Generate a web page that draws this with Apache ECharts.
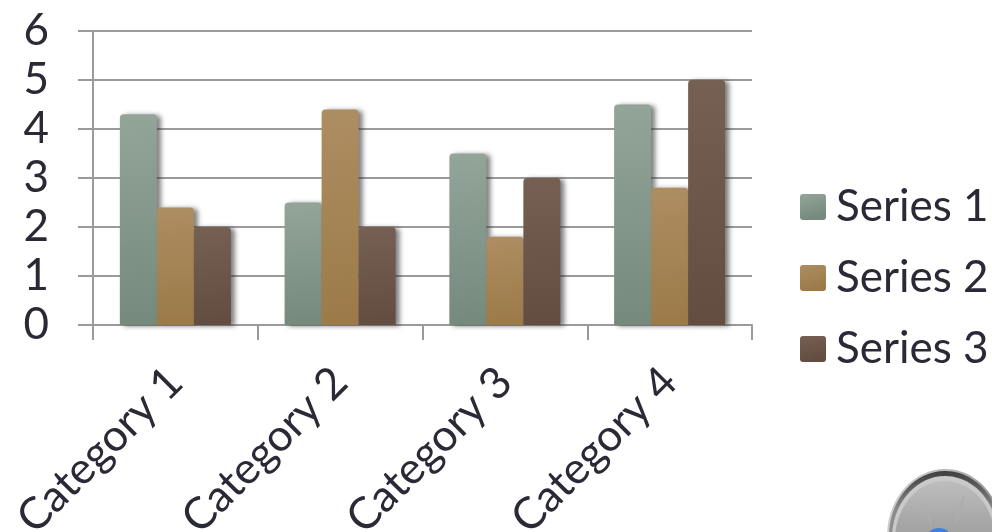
<!DOCTYPE html>
<html>
<head>
<meta charset="utf-8">
<style>
  html, body { margin: 0; padding: 0; background: #fff; overflow: hidden; }
  #chart { width: 992px; height: 532px; }
</style>
<script src="https://cdn.jsdelivr.net/npm/echarts@6/dist/echarts.min.js"></script>
</head>
<body>
<div id="chart"></div>
<script>
const categories = ['Category 1', 'Category 2', 'Category 3', 'Category 4'];
const series1 = [4.3, 2.5, 3.5, 4.5];
const series2 = [2.4, 4.4, 1.8, 2.8];
const series3 = [2, 2, 3, 5];
const seriesNames = ['Series 1', 'Series 2', 'Series 3'];

const fills = [
  ['#93a599', '#76897d'],
  ['#ad8d62', '#9c7a48'],
  ['#756053', '#624d40']
];
const textColor = '#2a2a36';
const lineColor = '#9a9a9a';
const fontFamily = 'Lato, "Open Sans", sans-serif';
const swatch = 'path://M3 0H23Q26 0 26 3V23Q26 26 23 26H3Q0 26 0 23V3Q0 0 3 0Z';

function barFill(pair) {
  return new echarts.graphic.LinearGradient(0, 0, 0.25, 1, [
    { offset: 0, color: pair[0] },
    { offset: 1, color: pair[1] }
  ]);
}

function makeSeries(name, values, pair) {
  return {
    name: name,
    type: 'bar',
    data: values,
    barWidth: 37,
    barGap: 0,
    itemStyle: {
      color: barFill(pair),
      borderRadius: [4, 4, 0, 0],
      shadowColor: 'rgba(40,40,40,0.6)',
      shadowBlur: 5,
      shadowOffsetX: 4,
      shadowOffsetY: 1
    },
    emphasis: { disabled: true }
  };
}

// Corner ornament: a domed grey dial running off the bottom right of the page.
function dial() {
  const cx = 945, cy = 536;
  return [
    { type: 'ellipse', silent: true, shape: { cx: cx, cy: cy, rx: 58, ry: 67 },
      style: { fill: new echarts.graphic.LinearGradient(0, 0, 1, 0.3, [
        { offset: 0, color: '#d8d8d8' }, { offset: 1, color: '#8f8f8f' }]) } },
    { type: 'ellipse', silent: true, shape: { cx: cx, cy: cy, rx: 56, ry: 65 },
      style: { fill: new echarts.graphic.LinearGradient(0, 0, 0, 1, [
        { offset: 0, color: '#3e3e3e' }, { offset: 0.3, color: '#8a8a8a' }, { offset: 1, color: '#9a9a9a' }]) } },
    { type: 'ellipse', silent: true, shape: { cx: cx, cy: cy + 2, rx: 53, ry: 62 },
      style: { fill: '#c9c9c9' } },
    { type: 'ellipse', silent: true, shape: { cx: cx, cy: cy + 4, rx: 50, ry: 59 },
      style: { fill: new echarts.graphic.LinearGradient(0, 0, 0, 1, [
        { offset: 0, color: '#bdbdbd' }, { offset: 0.6, color: '#979797' }, { offset: 1, color: '#8a8a8a' }]) } },
    { type: 'line', silent: true, shape: { x1: 925, y1: 505, x2: 931, y2: 524 },
      style: { stroke: '#adadad', lineWidth: 2 } },
    { type: 'line', silent: true, shape: { x1: 964, y1: 497, x2: 955, y2: 524 },
      style: { stroke: '#adadad', lineWidth: 2 } },
    { type: 'ellipse', silent: true, shape: { cx: 939, cy: 540, rx: 13, ry: 12 },
      style: { fill: '#3f7fe0' } }
  ];
}

const chart = echarts.init(document.getElementById('chart'), null, { renderer: 'canvas' });
chart.setOption({
  animation: false,
  backgroundColor: '#ffffff',
  graphic: { elements: dial() },
  grid: { left: 93, right: 240, top: 31, bottom: 207, containLabel: false, outerBoundsMode: 'none' },
  legend: {
    orient: 'vertical',
    left: 795,
    top: 180,
    itemWidth: 26,
    itemHeight: 26,
    itemGap: 27,
    icon: swatch,
    data: seriesNames.map(function (n, i) {
      return { name: n, itemStyle: { color: barFill(fills[i]) } };
    }),
    textStyle: { color: textColor, fontFamily: fontFamily, fontSize: 44, lineHeight: 26, padding: [0, 0, 0, 5] }
  },
  xAxis: {
    type: 'category',
    data: categories,
    axisLine: { lineStyle: { color: lineColor, width: 2 } },
    axisTick: { show: true, length: 15, lineStyle: { color: lineColor, width: 2 } },
    axisLabel: {
      rotate: 45,
      interval: 0,
      margin: 50,
      color: textColor,
      fontFamily: fontFamily,
      fontSize: 44
    }
  },
  yAxis: {
    type: 'value',
    min: 0,
    max: 6,
    interval: 1,
    axisLine: { show: true, lineStyle: { color: lineColor, width: 2 } },
    axisTick: { show: true, length: 15, lineStyle: { color: lineColor, width: 2 } },
    splitLine: { show: true, lineStyle: { color: lineColor, width: 2 } },
    axisLabel: {
      margin: 44,
      color: textColor,
      fontFamily: fontFamily,
      fontSize: 44
    }
  },
  series: [
    makeSeries(seriesNames[0], series1, fills[0]),
    makeSeries(seriesNames[1], series2, fills[1]),
    makeSeries(seriesNames[2], series3, fills[2])
  ]
});
</script>
</body>
</html>
